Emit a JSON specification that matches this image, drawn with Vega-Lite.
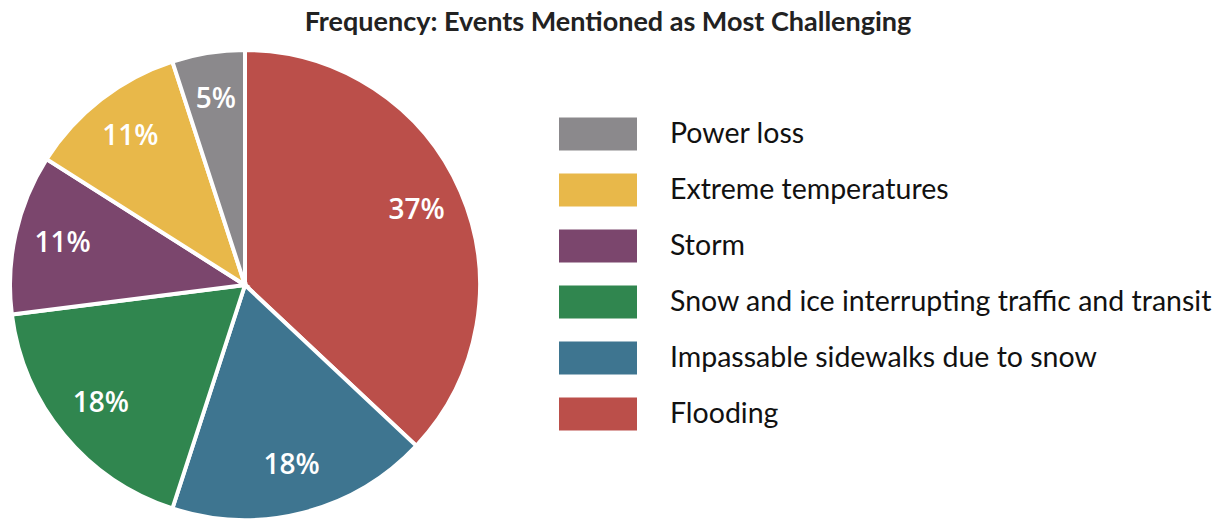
{
  "$schema": "https://vega.github.io/schema/vega-lite/v6.json",
  "autosize": {"type": "none"},
  "width": 490,
  "height": 470,
  "padding": {"top": 50, "left": 0, "right": 740, "bottom": 1},
  "background": "white",
  "title": {
    "text": "Frequency: Events Mentioned as Most Challenging",
    "font": "Lato",
    "fontSize": 27,
    "fontWeight": "bold",
    "color": "#222222",
    "anchor": "middle",
    "frame": "group",
    "dx": 363,
    "offset": 5
  },
  "data": {
    "values": [
      {"event": "Flooding", "share": 0.37, "rank": 1},
      {"event": "Impassable sidewalks due to snow", "share": 0.18, "rank": 2},
      {"event": "Snow and ice interrupting traffic and transit", "share": 0.18, "rank": 3},
      {"event": "Storm", "share": 0.11, "rank": 4},
      {"event": "Extreme temperatures", "share": 0.11, "rank": 5},
      {"event": "Power loss", "share": 0.05, "rank": 6}
    ]
  },
  "encoding": {
    "theta": {"field": "share", "type": "quantitative", "stack": true},
    "order": {"field": "rank", "type": "quantitative"}
  },
  "layer": [
    {
      "mark": {"type": "arc", "outerRadius": 235, "stroke": "white", "strokeWidth": 4},
      "encoding": {
        "color": {
          "field": "event",
          "type": "nominal",
          "scale": {
            "domain": ["Power loss", "Extreme temperatures", "Storm", "Snow and ice interrupting traffic and transit", "Impassable sidewalks due to snow", "Flooding"],
            "range": ["#8b898c", "#e8b84a", "#7b466d", "#30864f", "#3e7590", "#bb4f4a"]
          },
          "legend": {
            "title": null,
            "orient": "none",
            "legendX": 559,
            "legendY": 45,
            "symbolType": "M-1,-0.423L1,-0.423L1,0.423L-1,0.423Z",
            "symbolSize": 6084,
            "symbolStrokeWidth": 0,
            "labelFont": "Lato",
            "labelFontSize": 28.5,
            "labelColor": "#111111",
            "labelOffset": 33,
            "labelLimit": 700,
            "rowPadding": -22,
            "encode": {
              "symbols": {
                "update": {
                  "fill": {"signal": "datum.value === 'Snow and ice interrupting traffic and transit' ? '#65984f' : scale('color', datum.value)"},
                  "opacity": {"value": 1}
                }
              }
            }
          }
        }
      }
    },
    {
      "mark": {"type": "text", "radius": 187, "font": "Open Sans", "fontSize": 28, "fontWeight": 600, "color": "white"},
      "encoding": {
        "text": {"field": "share", "type": "quantitative", "format": ".0%"}
      }
    }
  ]
}
